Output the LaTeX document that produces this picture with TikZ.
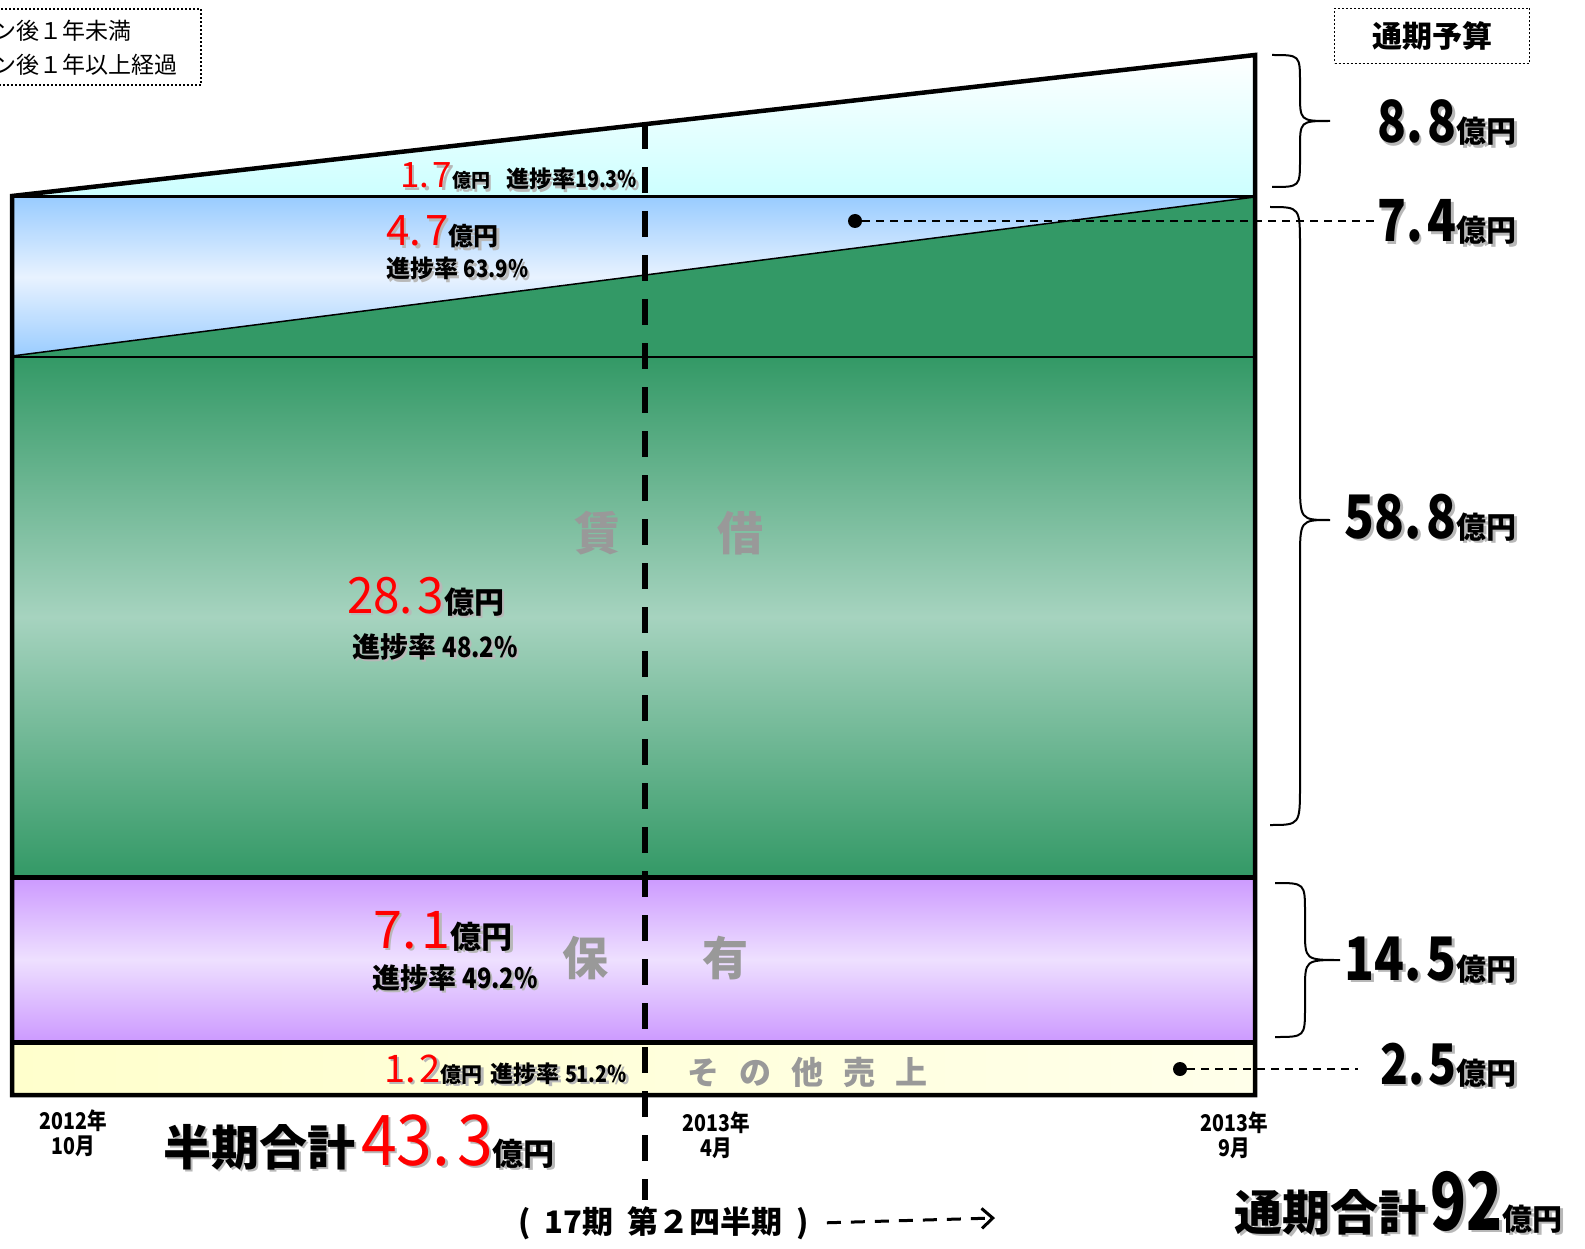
\documentclass[tikz,border=0pt]{standalone}
\usepackage{fontspec}
\usepackage{graphicx}
\setmainfont{Noto Sans CJK JP}
\usetikzlibrary{arrows.meta}
\definecolor{cyanL}{HTML}{CCFFFF}
\definecolor{blueD}{HTML}{99CCFF}
\definecolor{blueL}{HTML}{E8F2FF}
\definecolor{greenD}{HTML}{339966}
\definecolor{greenL}{HTML}{A6D3BF}
\definecolor{purpD}{HTML}{CC99FF}
\definecolor{purpL}{HTML}{EEE0FF}
\definecolor{yelD}{HTML}{FFFFCC}
\definecolor{yelL}{HTML}{FFFFEA}
\definecolor{txtgray}{HTML}{999999}
\newcommand\fsz[1]{\fontsize{#1}{#1}\selectfont}
\newcommand\rcol{\color{red}}
\newcommand\rd[3][1]{{\rcol\mdseries\fsz{#2}\scalebox{#1}[1]{#3}}}
\newcommand\bn[3]{\scalebox{#1}[1]{\fsz{#2}#3}}
\newcommand\shd[1]{\leavevmode\rlap{\raisebox{-2.5pt}{\hspace{2.5pt}{\def\rcol{}\color{black!28}#1}}}#1}
\newcommand\cnd[1]{\scalebox{0.85}[1]{#1}}
\newcommand\pd{.\hspace{0.1em}}
\begin{document}
\begin{tikzpicture}[x=1pt,y=-1pt,
  lbl/.style={inner sep=0pt, font=\bfseries, anchor=base west},
  rlbl/.style={inner sep=0pt, font=\bfseries, anchor=base east},
  wmark/.style={inner sep=0pt, text=txtgray, font=\bfseries\fsz{46}},
  datelbl/.style={inner sep=0pt, align=center, font=\bfseries\fontsize{23}{25}\selectfont},
  dotm/.style={circle, fill=black, inner sep=0pt, minimum size=14pt},
  leader/.style={line width=1.3pt, dash pattern=on 8pt off 6pt},
  brc/.style={line width=2pt},
  dotbox/.style={draw, line width=1.6pt, dash pattern=on 2pt off 2pt},
  bandline/.style={line width=5pt}]
\useasboundingbox (0,0) rectangle (1585,1249);

% bands
\shade[top color=white, bottom color=cyanL] (12,196) -- (1255,55) -- (1255,197) -- (12,197) -- cycle;
\shade[top color=blueD, bottom color=blueD, middle color=blueL] (12,197) rectangle (1255,357);
\fill[greenD] (12,356) -- (1255,197) -- (1255,357) -- (12,357) -- cycle;
\shade[top color=greenD, bottom color=greenD, middle color=greenL] (12,357) rectangle (1255,877);
\shade[top color=purpD, bottom color=purpD, middle color=purpL] (12,877) rectangle (1255,1042);
\shade[left color=yelD, right color=yelL] (12,1042) rectangle (1255,1095);

% band lines
\draw[line width=1.5pt] (12,356) -- (1255,197);
\draw[line width=2pt] (12,357) -- (1255,357);
\draw[line width=3pt] (12,197) -- (1255,197);
\draw[bandline] (12,877) -- (1255,877);
\draw[bandline] (12,1042) -- (1255,1042);
\draw[line width=4.5pt, line join=miter] (12,196) -- (1255,55) -- (1255,1095) -- (12,1095) -- cycle;

% period divider
\draw[line width=6pt, dash pattern=on 26pt off 18pt] (645,123) -- (645,1200);

% in-band labels
\node[lbl] (t17) at (400,188) {\shd{\rd{35}{1\pd7}{\fsz{19}億円}\hspace{16pt}{\fsz{23}進捗率\cnd{19.3\%}}}};
\node[lbl] (t47) at (386,246) {\shd{\rd{42}{4\pd7}{\fsz{25}億円}}};
\node[lbl] (p47) at (386,278) {\shd{\fsz{24}進捗率 \cnd{63.9\%}}};
\node[lbl] (t283) at (347,613) {\shd{\rd[0.95]{50}{28\pd3}{\fsz{30}億円}}};
\node[lbl] (p283) at (352,657) {\shd{\fsz{28}進捗率 \cnd{48.2\%}}};
\node[lbl] (t71) at (373,948) {\shd{\rd{52}{7\pd1}{\fsz{31}億円}}};
\node[lbl] (p71) at (372,988) {\shd{\fsz{28}進捗率 \cnd{49.2\%}}};
\node[lbl] (t12) at (384,1082) {\shd{\rd{38}{1\pd2}{\fsz{21}億円}\hspace{8pt}{\fsz{23}進捗率 \cnd{51.2\%}}}};

% watermarks
\node[wmark] (w1) at (597,533) {賃};
\node[wmark] (w2) at (740,533) {借};
\node[wmark] (w3) at (585,958) {保};
\node[wmark] (w4) at (725,958) {有};
\node[inner sep=0pt, text=txtgray, font=\bfseries\fsz{32}] (w5) at (807,1072)
  {そ\hspace{20pt}の\hspace{20pt}他\hspace{20pt}売\hspace{20pt}上};

% braces
\draw[brc] (1272,55) .. controls (1300,55) .. (1300,83) -- (1300,93) .. controls (1300,121) .. (1330,121)
  .. controls (1300,121) .. (1300,149) -- (1300,159) .. controls (1300,187) .. (1272,187);
\draw[brc] (1270,207) .. controls (1300,207) .. (1300,247) -- (1300,480) .. controls (1300,520) .. (1330,520)
  .. controls (1300,520) .. (1300,560) -- (1300,785) .. controls (1300,825) .. (1270,825);
\draw[brc] (1275,883) .. controls (1305,883) .. (1305,913) -- (1305,930) .. controls (1305,960) .. (1340,960)
  .. controls (1305,960) .. (1305,990) -- (1305,1007) .. controls (1305,1037) .. (1275,1037);

% right labels
\node[rlbl] (r88) at (1517,143) {\shd{\bn{0.82}{58}{8\pd8}{\fsz{30}億円}}};
\node[rlbl] (r74) at (1517,242) {\shd{\bn{0.82}{58}{7\pd4}{\fsz{30}億円}}};
\node[rlbl] (r588) at (1517,538) {\shd{\bn{0.82}{60}{58\pd8}{\fsz{30}億円}}};
\node[rlbl] (r145) at (1517,980) {\shd{\bn{0.82}{60}{14\pd5}{\fsz{30}億円}}};
\node[rlbl] (r25) at (1517,1084) {\shd{\bn{0.82}{56}{2\pd5}{\fsz{30}億円}}};

% leaders
\node[dotm] (d74) at (855,221) {};
\node[dotm] (d25) at (1180,1069) {};
\draw[leader] (d74) -- (d74 -| r74.west);
\draw[leader] (d25) -- ([xshift=-22pt]d25 -| r25.west);

% dates
\node[datelbl] (dt1) at (73,1133) {\cnd{2012年}\\\cnd{10月}};
\node[datelbl] (dt2) at (716,1135) {\cnd{2013年}\\\cnd{4月}};
\node[datelbl] (dt3) at (1234,1135) {\cnd{2013年}\\\cnd{9月}};

% totals
\node[lbl] (half) at (163,1165) {\shd{{\fsz{48}半期合計}\hspace{6pt}\rd[0.92]{70}{43\pd3}{\fsz{31}億円}}};
\node[rlbl] (full) at (1563,1230) {\shd{{\fsz{48}通期合計}\hspace{4pt}\bn{0.74}{80}{92}{\fsz{30}億円}}};

% quarter caption
\node[lbl] (qtr) at (518,1233) {\fsz{31}(\hspace{14pt}17期\hspace{14pt}第２四半期\hspace{14pt})};
\coordinate (qend) at (995,1218);
\draw[line width=3pt, dash pattern=on 14pt off 10pt, -{Straight Barb[length=11pt,width=20pt,line width=3pt]}]
  ([xshift=18pt]qtr.east) -- (qend);

% boxes
\node[dotbox, font=\bfseries\fsz{30}, minimum width=195pt, minimum height=55pt, inner sep=0pt] (budget) at (1432,36) {通期予算};
\draw[dotbox] (-5,9) rectangle (201,85);
\node[inner sep=0pt, anchor=base west, font=\fsz{23}] (lg1) at (-7,40) {ン後１年未満};
\node[inner sep=0pt, anchor=base west, font=\fsz{23}] (lg2) at (-7,74) {ン後１年以上経過};
\end{tikzpicture}
\end{document}
